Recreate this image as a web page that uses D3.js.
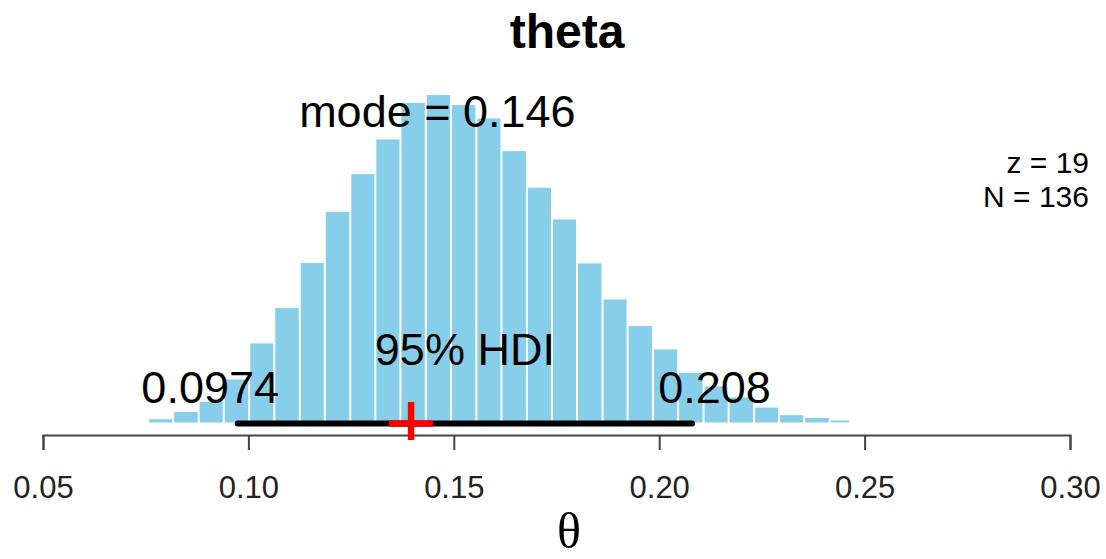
<!DOCTYPE html>
<html>
<head>
<meta charset="utf-8">
<script src="https://cdn.jsdelivr.net/npm/d3@7"></script>
<style>
  body { margin: 0; background: #fff; }
  text { font-family: "Liberation Sans", Arial, sans-serif; }
</style>
</head>
<body>
<script>
"use strict";

var width = 1106,
    height = 559;

// histogram breaks (bin width = HDI width / 18)
var breaks = [0.0756, 0.0817, 0.0879, 0.0940, 0.1002, 0.1063, 0.1125, 0.1186,
              0.1248, 0.1309, 0.1370, 0.1432, 0.1493, 0.1555, 0.1616, 0.1678,
              0.1739, 0.1800, 0.1862, 0.1923, 0.1985, 0.2046, 0.2108, 0.2169,
              0.2231, 0.2292, 0.2353, 0.2415, 0.2465];

// density of each bin
var density = [0.14, 0.46, 0.90, 1.87, 3.44, 4.98, 6.94, 9.16,
               10.80, 12.31, 13.90, 14.24, 13.80, 13.22, 11.80, 10.21,
               8.83, 6.92, 5.35, 4.19, 3.18, 2.16, 1.57, 1.09,
               0.65, 0.32, 0.20, 0.07];

var tickValues = [0.05, 0.10, 0.15, 0.20, 0.25, 0.30];
var hdi = [0.0974, 0.208];
var hdiLabels = ["0.0974", "0.208"];
var modeValue = 0.146;
var markValue = 0.1396;
var infoLines = ["z = 19", "N = 136"];

var svg = d3.select("body")
    .append("svg")
    .attr("width", width)
    .attr("height", height);

var x = d3.scaleLinear()
    .domain([0.05, 0.30])
    .range([43, 1070]);

var y = d3.scaleLinear()
    .domain([0, d3.max(density)])
    .range([422.5, 95]);

var bins = density.map(function (d, i) {
    return { x0: breaks[i], x1: breaks[i + 1], d: d };
});

// bars, with a thin white gap between them
svg.append("g").attr("id", "bars")
    .selectAll("rect")
    .data(bins)
    .enter()
    .append("rect")
    .attr("x", function (b) { return x(b.x0) + 1; })
    .attr("y", function (b) { return Math.min(y(b.d), y(0) - 2); })
    .attr("width", function (b) { return x(b.x1) - x(b.x0) - 2; })
    .attr("height", function (b) { return Math.max(y(0) - y(b.d), 2); })
    .attr("fill", "#87CEEB");

// x axis
var axis = svg.append("g")
    .attr("transform", "translate(0,435)")
    .call(d3.axisBottom(x)
        .tickValues(tickValues)
        .tickFormat(d3.format(".2f"))
        .tickSizeOuter(0)
        .tickSize(15));

axis.select(".domain").attr("stroke", "#444").attr("stroke-width", 2);
axis.selectAll(".tick line").attr("stroke", "#444").attr("stroke-width", 2);
axis.selectAll(".tick text")
    .attr("y", 63)
    .attr("dy", null)
    .attr("fill", "#222")
    .style("font-size", "31px")
    .style("font-family", "'Liberation Sans', Arial, sans-serif");

// HDI line
svg.append("line")
    .attr("x1", x(hdi[0]))
    .attr("x2", x(hdi[1]))
    .attr("y1", 423.5)
    .attr("y2", 423.5)
    .attr("stroke", "#000")
    .attr("stroke-width", 6)
    .attr("stroke-linecap", "round");

// red plus
var px = x(markValue);
svg.append("path")
    .attr("d", "M" + (px - 22) + ",423.5H" + (px + 22) + "M" + px + ",402V440")
    .attr("stroke", "#ff0000")
    .attr("stroke-width", 6.5)
    .attr("fill", "none");

// texts
svg.append("text")
    .attr("x", 567)
    .attr("y", 48)
    .attr("text-anchor", "middle")
    .style("font-size", "48px")
    .style("font-weight", "bold")
    .text("theta");

svg.append("text")
    .attr("x", x(modeValue))
    .attr("y", 127)
    .attr("text-anchor", "middle")
    .style("font-size", "45px")
    .text("mode = " + modeValue);

svg.append("text")
    .attr("x", x((hdi[0] + hdi[1]) / 2))
    .attr("y", 365)
    .attr("text-anchor", "middle")
    .style("font-size", "45px")
    .text("95% HDI");

var adj = [0.7, 0.3];
hdiLabels.forEach(function (lab, i) {
    var t = svg.append("text")
        .attr("y", 403)
        .style("font-size", "45px")
        .text(lab);
    var w = t.node().getComputedTextLength();
    t.attr("x", x(hdi[i]) - adj[i] * w);
});

svg.selectAll(".info")
    .data(infoLines)
    .enter()
    .append("text")
    .attr("class", "info")
    .attr("x", 1089)
    .attr("y", function (d, i) { return 173 + i * 34; })
    .attr("text-anchor", "end")
    .style("font-size", "30px")
    .text(function (d) { return d; });

svg.append("text")
    .attr("x", 569)
    .attr("y", 548)
    .attr("text-anchor", "middle")
    .style("font-size", "50px")
    .style("font-family", "'Liberation Serif', 'DejaVu Serif', serif")
    .text("θ");
</script>
</body>
</html>
